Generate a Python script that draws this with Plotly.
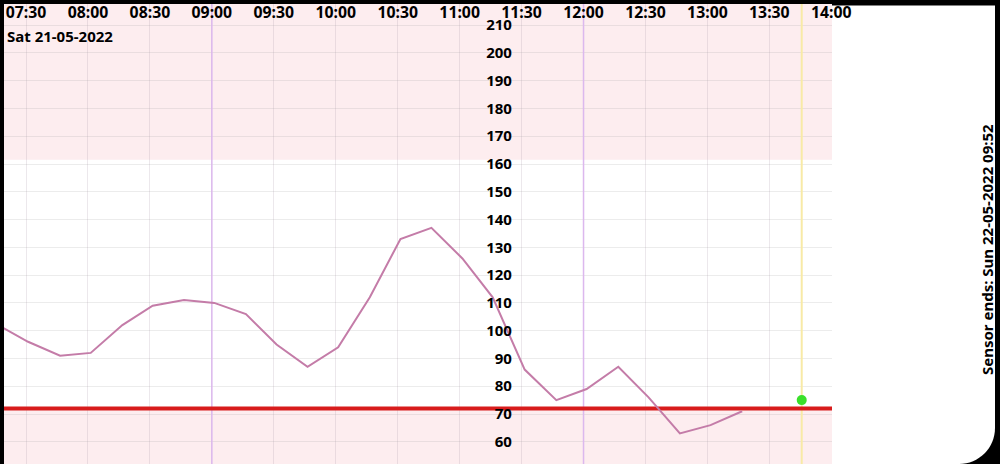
import plotly.graph_objects as go

DAY = "2022-05-21 "

# ---- data ----
times = ["07:16:30", "07:31:00", "07:46:30", "08:01:20", "08:16:40", "08:31:20",
         "08:46:30", "09:01:10", "09:16:30", "09:31:20", "09:46:20", "10:01:10",
         "10:16:30", "10:31:20", "10:46:20", "11:01:20", "11:16:00", "11:31:30",
         "11:46:50", "12:01:30", "12:16:50", "12:31:30", "12:46:40", "13:01:30",
         "13:16:50"]
glucose = [102, 96, 91, 92, 102, 109, 111, 110, 106, 95, 87, 94,
           112, 133, 137, 126, 112, 86, 75, 79, 87, 76, 63, 66, 71]

now_time = "13:45:40"
now_value = 75
low_limit = 72
high_limit = 161.5
day_marks = ["09:00:00", "12:00:00"]
x_range = ["07:19:20", "14:00:20"]
y_range = [52, 217.6]
y_ticks = list(range(60, 211, 10))
date_label = "Sat 21-05-2022"
sensor_label = "Sensor ends: Sun 22-05-2022 09:52"

FONT = "Noto Sans"
BOLD = dict(family=FONT, size=15, color="black", weight="bold")
BOLD_X = dict(family=FONT, size=15.8, color="black", weight="bold")

x = [DAY + t for t in times]
xr = [DAY + t for t in x_range]

fig = go.Figure()

fig.add_trace(go.Scatter(x=x, y=glucose, mode="lines",
                         line=dict(color="#c47ca8", width=2),
                         hoverinfo="skip", showlegend=False))
fig.add_trace(go.Scatter(x=[DAY + now_time], y=[now_value], mode="markers",
                         marker=dict(color="#3ae02a", size=10, line=dict(width=0)),
                         hoverinfo="skip", showlegend=False))

shapes = []
# white screen area incl. right panel with rounded bottom-right corner
R = 1.19686
dx, dy = 0.0435, 0.0783
k = 0.5523
path = (f"M 0,0 L {R-dx:.5f},0 C {R-dx+dx*k:.5f},0 {R:.5f},{dy-dy*k:.5f} {R:.5f},{dy:.5f} "
        f"L {R:.5f},0.997 L 0,0.997 Z")
shapes.append(dict(type="path", xref="paper", yref="paper", path=path,
                   fillcolor="white", line=dict(width=0), layer="below"))
# pink bands
shapes.append(dict(type="rect", xref="x", yref="y", x0=xr[0], x1=xr[1],
                   y0=high_limit, y1=y_range[1], fillcolor="#fdedef",
                   line=dict(width=0), layer="below"))
shapes.append(dict(type="rect", xref="x", yref="y", x0=xr[0], x1=xr[1],
                   y0=y_range[0], y1=low_limit, fillcolor="#fdedef",
                   line=dict(width=0), layer="below"))
# day marks
for t in day_marks:
    shapes.append(dict(type="line", xref="x", yref="y", x0=DAY + t, x1=DAY + t,
                       y0=y_range[0], y1=y_range[1],
                       line=dict(color="#dcb8ee", width=1.5), layer="between"))
# now line
shapes.append(dict(type="line", xref="x", yref="y", x0=DAY + now_time, x1=DAY + now_time,
                   y0=y_range[0], y1=y_range[1],
                   line=dict(color="#f8eaa6", width=2), layer="between"))
# low limit line
shapes.append(dict(type="line", xref="x", yref="y", x0=xr[0], x1=xr[1],
                   y0=low_limit, y1=low_limit,
                   line=dict(color="#d81c1c", width=4), layer="between"))

fig.update_layout(
    width=1000, height=464,
    margin=dict(l=4, r=168, t=4, b=0),
    paper_bgcolor="black",
    plot_bgcolor="rgba(0,0,0,0)",
    showlegend=False,
    hovermode=False,
    shapes=shapes,
    font=dict(family=FONT, size=15, color="black"),
    xaxis=dict(
        type="date", range=xr, side="top",
        tick0=DAY + "07:30:00", dtick=30 * 60 * 1000, tickformat="%H:%M",
        ticklabelposition="inside", ticks="", ticklabeloverflow="allow",
        tickfont=BOLD_X, showgrid=True, gridcolor="rgba(170,150,170,0.22)", gridwidth=1,
        zeroline=False, showline=False, fixedrange=True,
    ),
    yaxis=dict(
        range=y_range, tickvals=y_ticks, ticks="",
        anchor="free", position=0.6134, side="left",
        tickfont=BOLD, showgrid=True, gridcolor="rgba(160,160,160,0.2)", gridwidth=1,
        zeroline=False, showline=False, fixedrange=True,
    ),
    annotations=[
        dict(text=date_label, xref="paper", yref="paper", x=0.0012, y=0.9304,
             xanchor="left", yanchor="middle", showarrow=False, font=BOLD),
        dict(text=sensor_label, xref="paper", yref="paper", x=1.1872, y=0.4652,
             xanchor="center", yanchor="middle", textangle=-90, showarrow=False, font=BOLD),
    ],
)

fig.write_html("out.html", config={"displayModeBar": False},
               post_script="document.body.style.margin='0';document.body.style.background='black';")
